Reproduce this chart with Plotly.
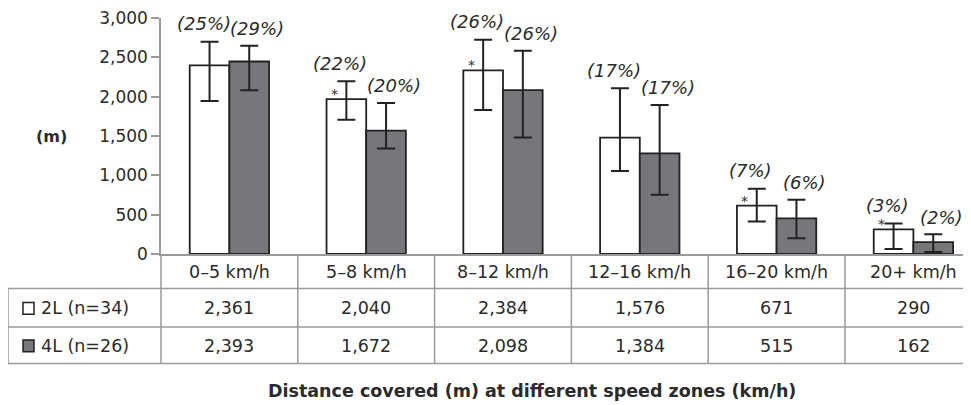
import plotly.graph_objects as go

# ---------------- data ----------------
zones = ["0–5 km/h", "5–8 km/h", "8–12 km/h", "12–16 km/h", "16–20 km/h", "20+ km/h"]
series_names = ["2L (n=34)", "4L (n=26)"]

bar_2L = [2397, 1970, 2334, 1480, 615, 314]
bar_4L = [2447, 1568, 2083, 1280, 452, 150]
err_hi_2L = [2698, 2196, 2723, 2108, 828, 389]
err_lo_2L = [1945, 1706, 1832, 1054, 414, 63]
err_hi_4L = [2647, 1920, 2585, 1895, 690, 251]
err_lo_4L = [2083, 1342, 1481, 753, 201, 25]

pct_2L = ["(25%)", "(22%)", "(26%)", "(17%)", "(7%)", "(3%)"]
pct_4L = ["(29%)", "(20%)", "(26%)", "(17%)", "(6%)", "(2%)"]
signif_2L = [False, True, True, False, True, True]

table_2L = ["2,361", "2,040", "2,384", "1,576", "671", "290"]
table_4L = ["2,393", "1,672", "2,098", "1,384", "515", "162"]

y_ticks = [0, 500, 1000, 1500, 2000, 2500, 3000]
y_title = "(m)"
x_title = "Distance covered (m) at different speed zones (km/h)"

# ---------------- layout geometry ----------------
OFF = 8  # default page body margin of the html page
W, H = 971 - OFF, 405 - OFF
L, T = 161 - OFF, 15 - OFF
PW, PH = W - L, 239
B = H - T - PH
COL = 136.8  # pixel width of one category column


def px_x(p):
    return (p - OFF - L) / PW


def px_y(p):
    return (T + PH - (p - OFF)) / PH


FONT = "DejaVu Sans"
TXT = "#2b2b2b"
GRID = "#9a9a9a"
xs = list(range(len(zones)))
half = 0.145  # half spacing between grouped bar centres

fig = go.Figure()
fig.add_trace(go.Bar(
    x=xs, y=bar_2L, name=series_names[0],
    marker=dict(color="white", line=dict(color="#222", width=1.8)),
    error_y=dict(type="data", symmetric=False,
                 array=[h - b for h, b in zip(err_hi_2L, bar_2L)],
                 arrayminus=[b - l for b, l in zip(bar_2L, err_lo_2L)],
                 color="#222", thickness=2, width=9),
))
fig.add_trace(go.Bar(
    x=xs, y=bar_4L, name=series_names[1],
    marker=dict(color="#77777b", line=dict(color="#222", width=1.8)),
    error_y=dict(type="data", symmetric=False,
                 array=[h - b for h, b in zip(err_hi_4L, bar_4L)],
                 arrayminus=[b - l for b, l in zip(bar_4L, err_lo_4L)],
                 color="#222", thickness=2, width=9),
))

ann = []
shapes = []

# percentage labels above the error bars
for i in xs:
    ann.append(dict(x=i - half, y=err_hi_2L[i], xref="x", yref="y", text=pct_2L[i],
                    showarrow=False, xshift=-6, yshift=18, xanchor="center", yanchor="middle",
                    font=dict(family=FONT, size=18, color=TXT, style="italic")))
    ann.append(dict(x=i + half, y=err_hi_4L[i], xref="x", yref="y", text=pct_4L[i],
                    showarrow=False, xshift=8, yshift=17, xanchor="center", yanchor="middle",
                    font=dict(family=FONT, size=18, color=TXT, style="italic")))
    if signif_2L[i]:
        ann.append(dict(x=i - half, y=bar_2L[i], xref="x", yref="y", text="*",
                        showarrow=False, xshift=-12, yshift=5, xanchor="center", yanchor="middle",
                        font=dict(family=FONT, size=14, color=TXT)))

# table rows
row_y = [px_y(272), px_y(309), px_y(347)]
for i in xs:
    for r, vals in enumerate([zones, table_2L, table_4L]):
        ann.append(dict(x=i, y=row_y[r], xref="x", yref="paper", text=vals[i], showarrow=False,
                        xanchor="center", yanchor="middle",
                        font=dict(family=FONT, size=17.5, color=TXT)))

# legend cells
for r, (name, fill) in enumerate(zip(series_names, ["white", "#77777b"])):
    yc = row_y[r + 1]
    shapes.append(dict(type="rect", xref="paper", yref="paper",
                       x0=px_x(23), x1=px_x(34), y0=yc - 6 / PH, y1=yc + 6 / PH,
                       fillcolor=fill, line=dict(color="#222", width=1.5)))
    ann.append(dict(x=px_x(39), y=yc, xref="paper", yref="paper", text=name, showarrow=False,
                    xanchor="left", yanchor="middle",
                    font=dict(family=FONT, size=17.5, color=TXT)))

# table grid lines
for yy in [289, 328, 365]:
    shapes.append(dict(type="line", xref="paper", yref="paper", x0=px_x(8), x1=1,
                       y0=px_y(yy), y1=px_y(yy), line=dict(color=GRID, width=1.5)))
shapes.append(dict(type="line", xref="paper", yref="paper", x0=px_x(8), x1=px_x(8),
                   y0=px_y(289), y1=px_y(365), line=dict(color=GRID, width=1.5)))
shapes.append(dict(type="line", xref="paper", yref="paper", x0=0, x1=0,
                   y0=0, y1=px_y(365), line=dict(color=GRID, width=1.5)))
for i in xs[1:]:
    shapes.append(dict(type="line", xref="x", yref="paper", x0=i - 0.5, x1=i - 0.5,
                       y0=0, y1=px_y(365), line=dict(color=GRID, width=1.5)))

# axis titles
ann.append(dict(x=px_x(51), y=px_y(135), xref="paper", yref="paper", text=y_title,
                showarrow=False, xanchor="center", yanchor="middle",
                font=dict(family=FONT, size=16, color=TXT, weight="bold")))
ann.append(dict(x=px_x(532), y=px_y(393), xref="paper", yref="paper", text=x_title,
                showarrow=False, xanchor="center", yanchor="middle",
                font=dict(family=FONT, size=17.5, color=TXT, weight="bold")))

fig.update_layout(
    width=W, height=H,
    margin=dict(l=L, r=0, t=T, b=B, pad=0),
    paper_bgcolor="white", plot_bgcolor="white",
    barmode="group", bargap=0.42, bargroupgap=0,
    showlegend=False,
    annotations=ann, shapes=shapes,
    xaxis=dict(range=[-0.5, -0.5 + PW / COL], showticklabels=False, ticks="",
               showgrid=False, zeroline=False, showline=True, linecolor=GRID, linewidth=1.5,
               fixedrange=True),
    yaxis=dict(range=[0, 3000], tickvals=y_ticks, tickformat=",", ticks="outside",
               ticklen=8, tickwidth=1.5, tickcolor=GRID, showline=True, linecolor=GRID,
               linewidth=1.5, showgrid=False, zeroline=False, ticklabeloverflow="allow",
               tickfont=dict(family=FONT, size=17, color=TXT), fixedrange=True),
)

fig.write_html("out.html")
